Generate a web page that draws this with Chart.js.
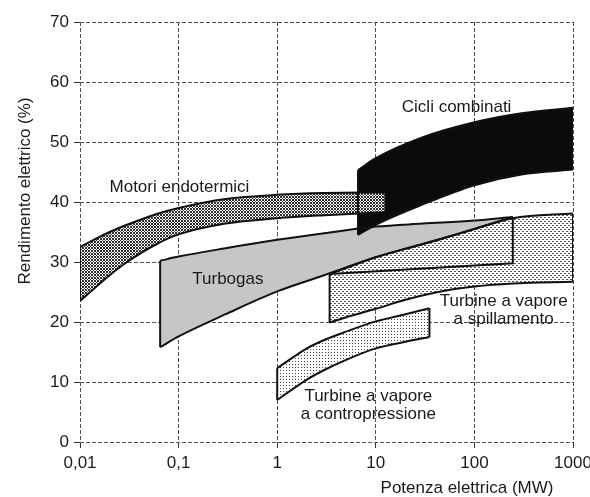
<!DOCTYPE html>
<html>
<head>
<meta charset="utf-8">
<script src="https://cdn.jsdelivr.net/npm/chart.js@4.4.1/dist/chart.umd.min.js"></script>
<style>
  html, body { margin: 0; padding: 0; background: #fff; }
</style>
</head>
<body>
<canvas id="grafico" width="590" height="497"></canvas>
<script>
// Assi: potenza elettrica (MW, scala logaritmica) e rendimento elettrico (%)
const xTicks = [0.01, 0.1, 1, 10, 100, 1000];
const xTickLabels = ['0,01', '0,1', '1', '10', '100', '1000'];
const yMin = 0, yMax = 70, yStep = 10;

// Motori endotermici: limite superiore e inferiore del campo
const motoriX = [0.01, 0.02, 0.03, 0.06, 0.1, 0.3, 1, 3, 12.5];
const motoriSup = [32.5, 35, 36.2, 38.0, 39.0, 40.5, 41.2, 41.5, 41.6];
const motoriInf = [23.5, 27.8, 30.0, 33.0, 34.6, 36.4, 37.3, 37.8, 38.3];

// Cicli combinati
const cicliX = [6.6, 10, 30, 100, 300, 1000];
const cicliSup = [45.3, 47.3, 50.8, 53.3, 54.8, 55.7];
const cicliInf = [34.5, 36.2, 39.6, 42.8, 44.6, 45.4];

// Turbogas
const turboX = [0.065, 0.1, 0.3, 1, 3, 10, 30, 100, 245];
const turboSup = [30.2, 30.9, 32.3, 33.7, 34.8, 35.9, 36.4, 36.9, 37.5];
const turboInf = [15.8, 17.6, 21.3, 25.1, 27.8, 30.8, 33.0, 35.5, 37.5];

// Turbine a vapore a spillamento
const spillX = [3.4, 5, 10, 20, 50, 100, 245, 1000];
const spillSup = [28.0, 29.0, 30.8, 32.2, 34.0, 35.5, 37.3, 38.1];
const spillInf = [19.9, 20.8, 22.2, 23.7, 25.2, 25.9, 26.4, 26.7];
// riquadro interno del campo a spillamento
const spillRiqX = [3.4, 245, 245];
const spillRiqY = [28.0, 29.8, 37.4];

// Turbine a vapore a contropressione
const controX = [1, 2, 3, 5, 10, 20, 35];
const controSup = [12.3, 15.6, 17.0, 18.4, 20.1, 21.3, 22.3];
const controInf = [7.0, 10.4, 12.0, 13.7, 15.6, 16.7, 17.5];

// Etichette dei campi (posizione in unita' del grafico)
const etichette = [
  { righe: ['Motori endotermici'], x: 0.102, y: 42.4 },
  { righe: ['Cicli combinati'], x: 66, y: 55.8 },
  { righe: ['Turbogas'], x: 0.316, y: 27.1 },
  { righe: ['Turbine a vapore', 'a spillamento'], x: 198, y: 23.4 },
  { righe: ['Turbine a vapore', 'a contropressione'], x: 8.4, y: 7.6 }
];

const FONT = '"Liberation Sans", Arial, sans-serif';
const TESTO = '#1a1a1a';
const CONTORNO = '#111';

// retini per il riempimento dei campi
function retino(w, h, colore, pixel) {
  const c = document.createElement('canvas');
  c.width = w; c.height = h;
  const g = c.getContext('2d');
  g.fillStyle = '#fff';
  g.fillRect(0, 0, w, h);
  g.fillStyle = colore;
  pixel.forEach(([a, b, l]) => g.fillRect(a, b, l || 1, 1));
  return g.createPattern(c, 'repeat');
}

const tratteggioIncrociato = retino(3, 3, '#2e2e2e', [[0, 0], [1, 1], [2, 2], [1, 2], [2, 1]]);
const trattini = retino(4, 4, '#555', [[0, 1, 2], [2, 3, 2]]);
const puntini = retino(3, 3, '#444', [[1, 1]]);

const punti = (xs, ys) => xs.map((x, i) => ({ x, y: ys[i] }));

function linea(data, ordine, extra) {
  return Object.assign({
    data,
    fill: false,
    borderColor: CONTORNO,
    borderWidth: 2,
    pointRadius: 0,
    tension: 0,
    order: ordine
  }, extra);
}

// un campo: bordo superiore riempito fino al bordo inferiore, piu' i due lati verticali
function campo(xs, sup, inf, sfondo, ordine) {
  const n = xs.length;
  return [
    linea(punti(xs, sup), ordine, { fill: '+1', backgroundColor: sfondo, cubicInterpolationMode: 'monotone' }),
    linea(punti(xs, inf), ordine, { cubicInterpolationMode: 'monotone' }),
    linea(punti([xs[0], xs[0]], [inf[0], sup[0]]), ordine),
    linea(punti([xs[n - 1], xs[n - 1]], [inf[n - 1], sup[n - 1]]), ordine)
  ];
}

const testi = {
  id: 'testi',
  afterDatasetsDraw(chart) {
    const { ctx, scales: { x, y } } = chart;
    ctx.save();
    ctx.font = '17px ' + FONT;
    ctx.fillStyle = TESTO;
    ctx.textAlign = 'center';
    ctx.textBaseline = 'middle';
    etichette.forEach(e => {
      e.righe.forEach((r, k) => {
        ctx.fillText(r, x.getPixelForValue(e.x), y.getPixelForValue(e.y) + k * 18);
      });
    });
    // titoli degli assi
    ctx.fillText('Potenza elettrica (MW)', 467, 488);
    ctx.translate(25, 191);
    ctx.rotate(-Math.PI / 2);
    ctx.fillText('Rendimento elettrico (%)', 0, 0);
    ctx.restore();
  }
};

const griglia = {
  color: '#555',
  lineWidth: 1,
  tickLength: 6,
  tickColor: '#333',
  tickBorderDash: []
};

new Chart(document.getElementById('grafico'), {
  type: 'line',
  data: {
    datasets: [
      ...campo(motoriX, motoriSup, motoriInf, tratteggioIncrociato, 0),
      ...campo(cicliX, cicliSup, cicliInf, '#0b0b0b', 1),
      linea(punti(spillRiqX, spillRiqY), 2),
      ...campo(spillX, spillSup, spillInf, trattini, 3),
      ...campo(turboX, turboSup, turboInf, '#c6c6c6', 4),
      ...campo(controX, controSup, controInf, puntini, 5)
    ]
  },
  options: {
    responsive: false,
    animation: false,
    layout: { padding: { top: 22, right: 17, left: 0, bottom: 0 } },
    plugins: {
      legend: { display: false },
      tooltip: { enabled: false },
      filler: { drawTime: 'beforeDatasetsDraw' }
    },
    scales: {
      x: {
        type: 'logarithmic',
        min: xTicks[0],
        max: xTicks[xTicks.length - 1],
        afterBuildTicks: s => { s.ticks = xTicks.map(v => ({ value: v })); },
        afterFit: s => { s.height = 55; s.paddingLeft = 0; s.paddingRight = 0; },
        ticks: {
          callback: (v, i) => xTickLabels[i],
          autoSkip: false,
          maxRotation: 0,
          padding: 5,
          color: TESTO,
          font: { family: FONT, size: 17 }
        },
        grid: griglia,
        border: { display: false, dash: [4, 2] }
      },
      y: {
        min: yMin,
        max: yMax,
        afterFit: s => { s.width = 80; },
        ticks: {
          stepSize: yStep,
          padding: 5,
          color: TESTO,
          font: { family: FONT, size: 17 }
        },
        grid: griglia,
        border: { display: false, dash: [4, 2] }
      }
    }
  },
  plugins: [testi]
});
</script>
</body>
</html>
